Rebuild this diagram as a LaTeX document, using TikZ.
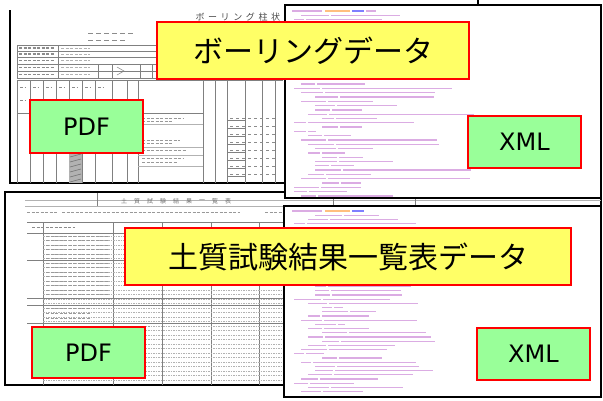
\documentclass[tikz,border=0pt]{standalone}
\usepackage{fontspec}
\newfontfamily\jp{Noto Sans CJK JP}
\newfontfamily\lat{DejaVu Sans}
\definecolor{lblyellow}{RGB}{255,255,102}
\definecolor{lblgreen}{RGB}{153,255,153}
\definecolor{xmlpurple}{RGB}{185,90,200}
\begin{document}
\begin{tikzpicture}[x=1pt,y=-1pt,
  frame/.style={draw=black,line width=1.8pt},
  grid/.style={draw=black!50,line width=0.5pt},
  faint/.style={draw=black!30,line width=0.4pt},
  dashrow/.style={draw=black!30,line width=0.4pt,dash pattern=on 1.5pt off 1pt},
  txtbar/.style={draw=black!45,line width=1.4pt,dash pattern=on 3pt off 1.5pt},
  xmlline/.style={draw=xmlpurple,line width=1.3pt,opacity=0.5},
  ylabel/.style={draw=red,line width=2.2pt,fill=lblyellow,font=\jp\fontsize{30}{36}\selectfont,inner sep=0pt},
  glabel/.style={draw=red,line width=2.2pt,fill=lblgreen,font=\lat\fontsize{24}{28}\selectfont,inner sep=0pt}]
\useasboundingbox (0,0) rectangle (603,400);
\fill[white] (0,0) rectangle (603,400);

% ---------- A: boring log PDF (top left) ----------
\draw[frame] (10,10) -- (10,183) -- (290,183);
\node[font=\jp\addfontfeature{LetterSpace=40}\fontsize{9}{9}\selectfont,text=black!70,anchor=west] (atitle) at (192,17) {ボーリング柱状図};
\foreach \x in {88,96,104,112,120,128} \draw[txtbar,dash pattern=on 3pt off 0pt,line width=1pt] (\x,33) -- ++(5,0);
\foreach \x in {88,96,104,112,120} \draw[txtbar,dash pattern=on 3pt off 0pt,line width=1pt] (\x,40) -- ++(5,0);
\draw[grid] (17,45) rectangle (283,78);
\foreach \y in {51,57,64,71} \draw[grid] (17,\y) -- (160,\y);
\draw[grid] (58,45) -- (58,78);
\draw[grid] (98,64) -- (98,78);
\draw[grid] (112,64) -- (112,78);
\draw[grid] (140,64) -- (140,78);
\draw[grid] (152,64) -- (152,78);
\foreach \y in {48,54,60.5,67.5,74.5} {
  \draw[txtbar] (19,\y) -- (55,\y);
  \draw[txtbar,draw=black!30,line width=1pt] (61,\y) -- (90,\y);
}
\draw[grid] (117,67) -- (124,71) -- (117,75);
% main table
\draw[grid] (17,80) -- (283,80);
\foreach \x in {17,30,43,56,69,82,95,112,127,138,203,215,227,245,262,275}
  \draw[grid] (\x,80) -- (\x,183);
\draw[grid] (17,113) -- (203,113);
\foreach \x in {20,33,46,59,72,85,98} {
  \draw[txtbar,line width=1pt] (\x,87) -- ++(6,0);
  \draw[txtbar,line width=1pt] (\x,100) -- ++(6,0);
}
\foreach \y/\l in {118/42,121/30,140/38,143/30,150/45,158/42,162/36}
  \draw[txtbar,line width=1pt,draw=black!40] (142,\y) -- ++(\l,0);
\foreach \y in {124,147,155,166} \draw[faint] (138,\y) -- (203,\y);
\fill[black!30] (69,150) rectangle (82,183);
\foreach \y in {152,157,...,182} \draw[black!55,line width=0.6pt] (70,\y) -- (81,\y-3);
\foreach \y in {120,128,136,144,152,160,168,176} {
  \draw[grid] (227,\y) -- (245,\y);
  \draw[txtbar,line width=1pt,dash pattern=on 3pt off 3pt] (230,\y-2) -- (275,\y-2);
}

% ---------- C: soil test PDF (bottom left) ----------
\filldraw[frame,fill=white] (5,192) rectangle (601,385);
\draw[faint] (25,200) -- (601,200);
\draw[faint] (25,206) -- (601,206);
\draw[grid] (97,193) -- (97,206);
\draw[grid] (333,193) -- (333,206);
\draw[grid] (415,193) -- (415,206);
\foreach \c [count=\i from 0] in {土,質,試,験,結,果,一,覧,表}
  \node[font=\jp\fontsize{6}{6}\selectfont,text=black!55,inner sep=0pt] (ct\i) at (124+13*\i,201) {\c};
\draw[txtbar,line width=1pt,draw=black!40] (27,212) -- (58,212);
\draw[txtbar,line width=1pt,draw=black!40] (62,212) -- (240,212);
\draw[txtbar,line width=1pt,draw=black!40] (265,212) -- (283,212);
\draw[grid] (27,222) -- (283,222);
\draw[grid] (27,233) -- (283,233);
\foreach \x in {43,113,162,211,259} \draw[grid] (\x,222) -- (\x,385);
\foreach \y in {236,240.5,...,383} \draw[dashrow] (43,\y) -- (283,\y);
\foreach \y in {260,298,305,323} \draw[grid] (27,\y) -- (283,\y);
\foreach \y in {236,240.5,...,296} \draw[txtbar,line width=1pt,draw=black!40] (46,\y) -- (108,\y);
\foreach \y in {308,313,318,326,331} \draw[txtbar,line width=1pt,draw=black!40] (46,\y) -- (90,\y);
\draw[txtbar,line width=1pt] (32,227) -- (75,227);
\draw[txtbar,line width=1pt,draw=black!40] (116,326) -- (150,326);

% ---------- B: boring XML (top right) ----------
\filldraw[frame,fill=white] (285,5) rectangle (601,198);
\draw[frame] (478,0) -- (478,5);
\pgfmathsetseed{11}
\draw[xmlline] (292,11) -- ++(30,0);
\draw[xmlline,draw=orange] (325,11) -- ++(25,0);
\draw[xmlline,draw=blue] (352,11) -- ++(12,0);
\draw[xmlline] (366,11) -- ++(10,0);
\foreach \i in {1,...,43} {
  \pgfmathsetmacro\yy{11+4.3*\i}
  \pgfmathsetmacro\ind{int(random(0,4))}
  \pgfmathsetmacro\tag{random(10,28)}
  \pgfmathsetmacro\len{random(0,150)}
  \draw[xmlline] (294+7*\ind,\yy) -- ++(\tag,0);
  \draw[xmlline] (296+7*\ind+\tag,\yy) -- ++(\len,0);
}

% ---------- D: soil test XML (bottom right) ----------
\filldraw[frame,fill=white] (284,206) rectangle (601,397);
\pgfmathsetseed{23}
\draw[xmlline] (292,211) -- ++(30,0);
\draw[xmlline,draw=orange] (325,211) -- ++(25,0);
\draw[xmlline,draw=blue] (352,211) -- ++(12,0);
\foreach \i in {1,...,43} {
  \pgfmathsetmacro\yy{211+4.2*\i}
  \pgfmathsetmacro\ind{int(random(0,4))}
  \pgfmathsetmacro\tag{random(10,28)}
  \pgfmathsetmacro\len{random(0,110)}
  \draw[xmlline] (294+7*\ind,\yy) -- ++(\tag,0);
  \draw[xmlline] (296+7*\ind+\tag,\yy) -- ++(\len,0);
}

% ---------- labels ----------
\node[ylabel,minimum width=312pt,minimum height=57pt] (boring) at (313,50.5) {ボーリングデータ};
\node[glabel,minimum width=113pt,minimum height=53pt] (pdfA) at (86.5,126.5) {PDF};
\node[glabel,minimum width=113pt,minimum height=52pt] (xmlB) at (524.5,142) {XML};
\node[ylabel,minimum width=446pt,minimum height=57pt] (soil) at (348,256.5) {土質試験結果一覧表データ};
\node[glabel,minimum width=113pt,minimum height=51pt] (pdfC) at (88.5,352.5) {PDF};
\node[glabel,minimum width=113pt,minimum height=52pt] (xmlD) at (533.5,354) {XML};
\end{tikzpicture}
\end{document}
